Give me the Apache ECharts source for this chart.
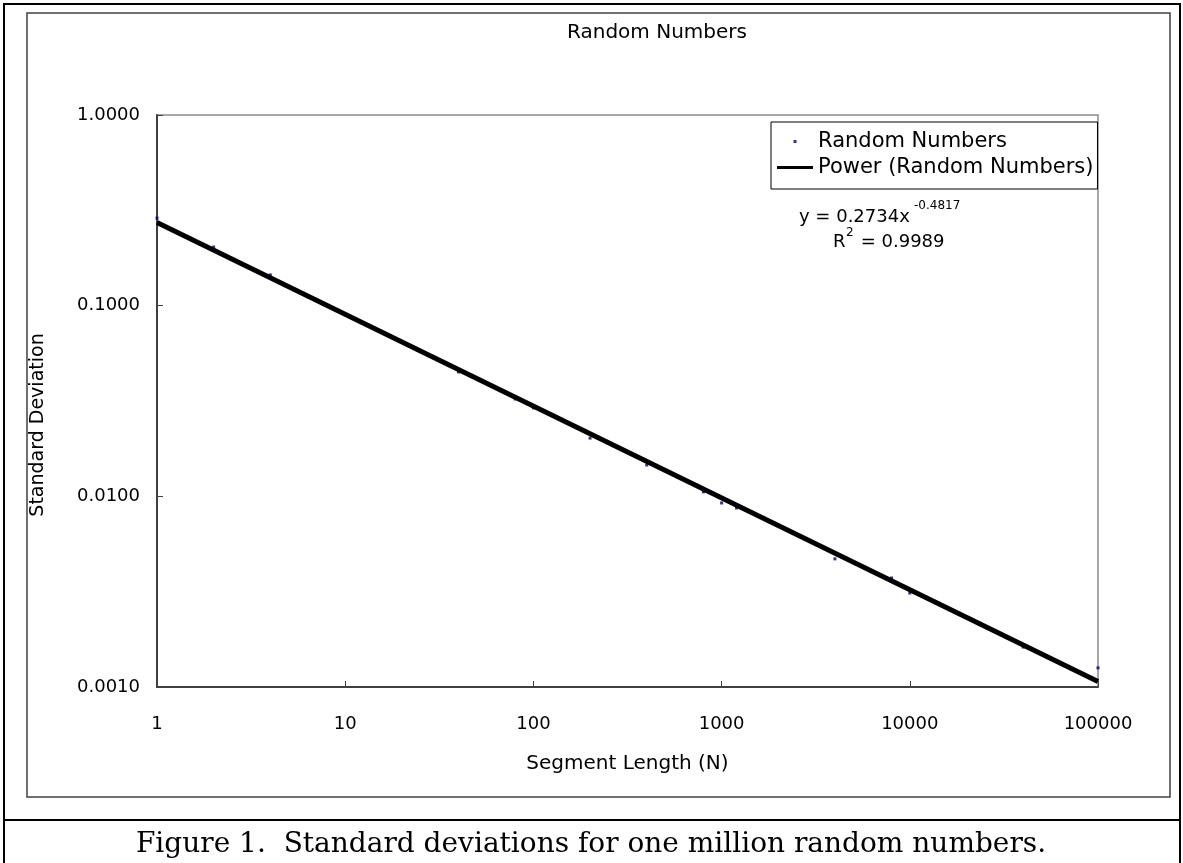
<!DOCTYPE html>
<html>
<head>
<meta charset="utf-8">
<script src="https://cdn.jsdelivr.net/npm/echarts@6/dist/echarts.min.js"></script>
<style>
  html, body { margin: 0; padding: 0; background: #fff; }
  #chart { width: 1183px; height: 863px; }
</style>
</head>
<body>
<div id="chart"></div>
<script>
const segmentLength = [1, 2, 4, 40, 80, 100, 200, 400, 800, 1000, 1200, 4000, 8000, 10000, 40000, 100000]
const stdDev = [0.288, 0.203, 0.145, 0.0449, 0.0324, 0.0291, 0.0202, 0.0146, 0.01055, 0.00923, 0.00869, 0.0047, 0.00373, 0.00311, 0.00162, 0.00126]

// power trendline end points
const trendX = [1, 100000]
const trendY = [0.2734, 0.00107]

const font = 'DejaVu Sans, Verdana, sans-serif'
// legend dot: tiny corner specks stretch the bbox so the dot sits mid-row
const dotIcon = 'path://M0,0h0.05v0.05h-0.05z M16.5,0h3v3h-3z M35.95,2.95h0.05v0.05h-0.05z'

const chart = echarts.init(document.getElementById('chart'))

chart.setOption({
  animation: false,
  backgroundColor: '#fff',
  grid: {
    left: 157, top: 115, right: 85, bottom: 176,
    show: true, borderColor: '#8a8a8a', borderWidth: 1.5,
  },
  xAxis: {
    type: 'log', logBase: 10, min: 1, max: 100000,
    name: 'Segment Length (N)', nameLocation: 'middle', nameGap: 67,
    nameTextStyle: { fontFamily: font, fontSize: 20, color: '#000' },
    axisLine: { show: true, lineStyle: { color: '#404040', width: 2 } },
    axisTick: { show: true, inside: true, length: 6, lineStyle: { color: '#404040', width: 1 } },
    axisLabel: {
      margin: 28, fontFamily: font, fontSize: 18, color: '#000',
      formatter: (v) => String(Math.round(v)),
    },
    splitLine: { show: false },
    minorTick: { show: false },
  },
  yAxis: {
    type: 'log', logBase: 10, min: 0.001, max: 1,
    axisLine: { show: true, lineStyle: { color: '#404040', width: 2 } },
    axisTick: { show: true, inside: true, length: 6, lineStyle: { color: '#404040', width: 1 } },
    axisLabel: {
      margin: 17, fontFamily: font, fontSize: 18, color: '#000',
      formatter: (v) => v.toFixed(4),
    },
    splitLine: { show: false },
  },
  legend: {
    orient: 'vertical', left: 771, top: 122,
    borderColor: '#000', borderWidth: 1,
    padding: [9, 4, 11, 6], itemGap: 5,
    itemWidth: 36, itemHeight: 3,
    textStyle: { fontFamily: font, fontSize: 21, color: '#000' },
    data: [
      { name: 'Random Numbers', icon: dotIcon, itemStyle: { color: '#000080' } },
      { name: 'Power (Random Numbers)', icon: 'rect', itemStyle: { color: '#000' } },
    ],
  },
  series: [
    {
      name: 'Random Numbers',
      type: 'scatter',
      symbol: 'rect',
      symbolSize: 3,
      itemStyle: { color: '#000080' },
      data: segmentLength.map((n, i) => [n, stdDev[i]]),
      z: 2,
    },
    {
      name: 'Power (Random Numbers)',
      type: 'line',
      showSymbol: false,
      symbol: 'none',
      lineStyle: { color: '#000', width: 5 },
      data: trendX.map((n, i) => [n, trendY[i]]),
      z: 3,
    },
  ],
  graphic: [
    // outer page frame + caption separator
    { type: 'rect', silent: true, shape: { x: 4, y: 4, width: 1176, height: 900 },
      style: { fill: 'none', stroke: '#000', lineWidth: 2 } },
    { type: 'line', silent: true, shape: { x1: 4, y1: 820, x2: 1180, y2: 820 },
      style: { stroke: '#000', lineWidth: 2 } },
    // chart area frame
    { type: 'rect', silent: true, shape: { x: 27, y: 13, width: 1143, height: 784 },
      style: { fill: 'none', stroke: '#404040', lineWidth: 1.5 } },
    { type: 'text', style: {
      x: 657, y: 33, text: 'Random Numbers', align: 'center', verticalAlign: 'middle',
      font: '20px ' + font, fill: '#000' } },
    { type: 'text', rotation: Math.PI / 2, x: 38, y: 425, style: {
      text: 'Standard Deviation', align: 'center', verticalAlign: 'middle',
      font: '19px ' + font, fill: '#000' } },
    { type: 'text', style: {
      x: 799, y: 217, text: 'y = 0.2734x', align: 'left', verticalAlign: 'middle',
      font: '18px ' + font, fill: '#000' } },
    { type: 'text', style: {
      x: 914, y: 206, text: '-0.4817', align: 'left', verticalAlign: 'middle',
      font: '12px ' + font, fill: '#000' } },
    { type: 'text', style: {
      x: 833, y: 242, text: 'R', align: 'left', verticalAlign: 'middle',
      font: '18px ' + font, fill: '#000' } },
    { type: 'text', style: {
      x: 846, y: 233, text: '2', align: 'left', verticalAlign: 'middle',
      font: '12px ' + font, fill: '#000' } },
    { type: 'text', style: {
      x: 855, y: 242, text: ' = 0.9989', align: 'left', verticalAlign: 'middle',
      font: '18px ' + font, fill: '#000' } },
    { type: 'text', style: {
      x: 591, y: 845, text: 'Figure 1.  Standard deviations for one million random numbers.',
      align: 'center', verticalAlign: 'middle',
      font: '28px DejaVu Serif, serif', fill: '#000' } },
  ],
})
</script>
</body>
</html>
